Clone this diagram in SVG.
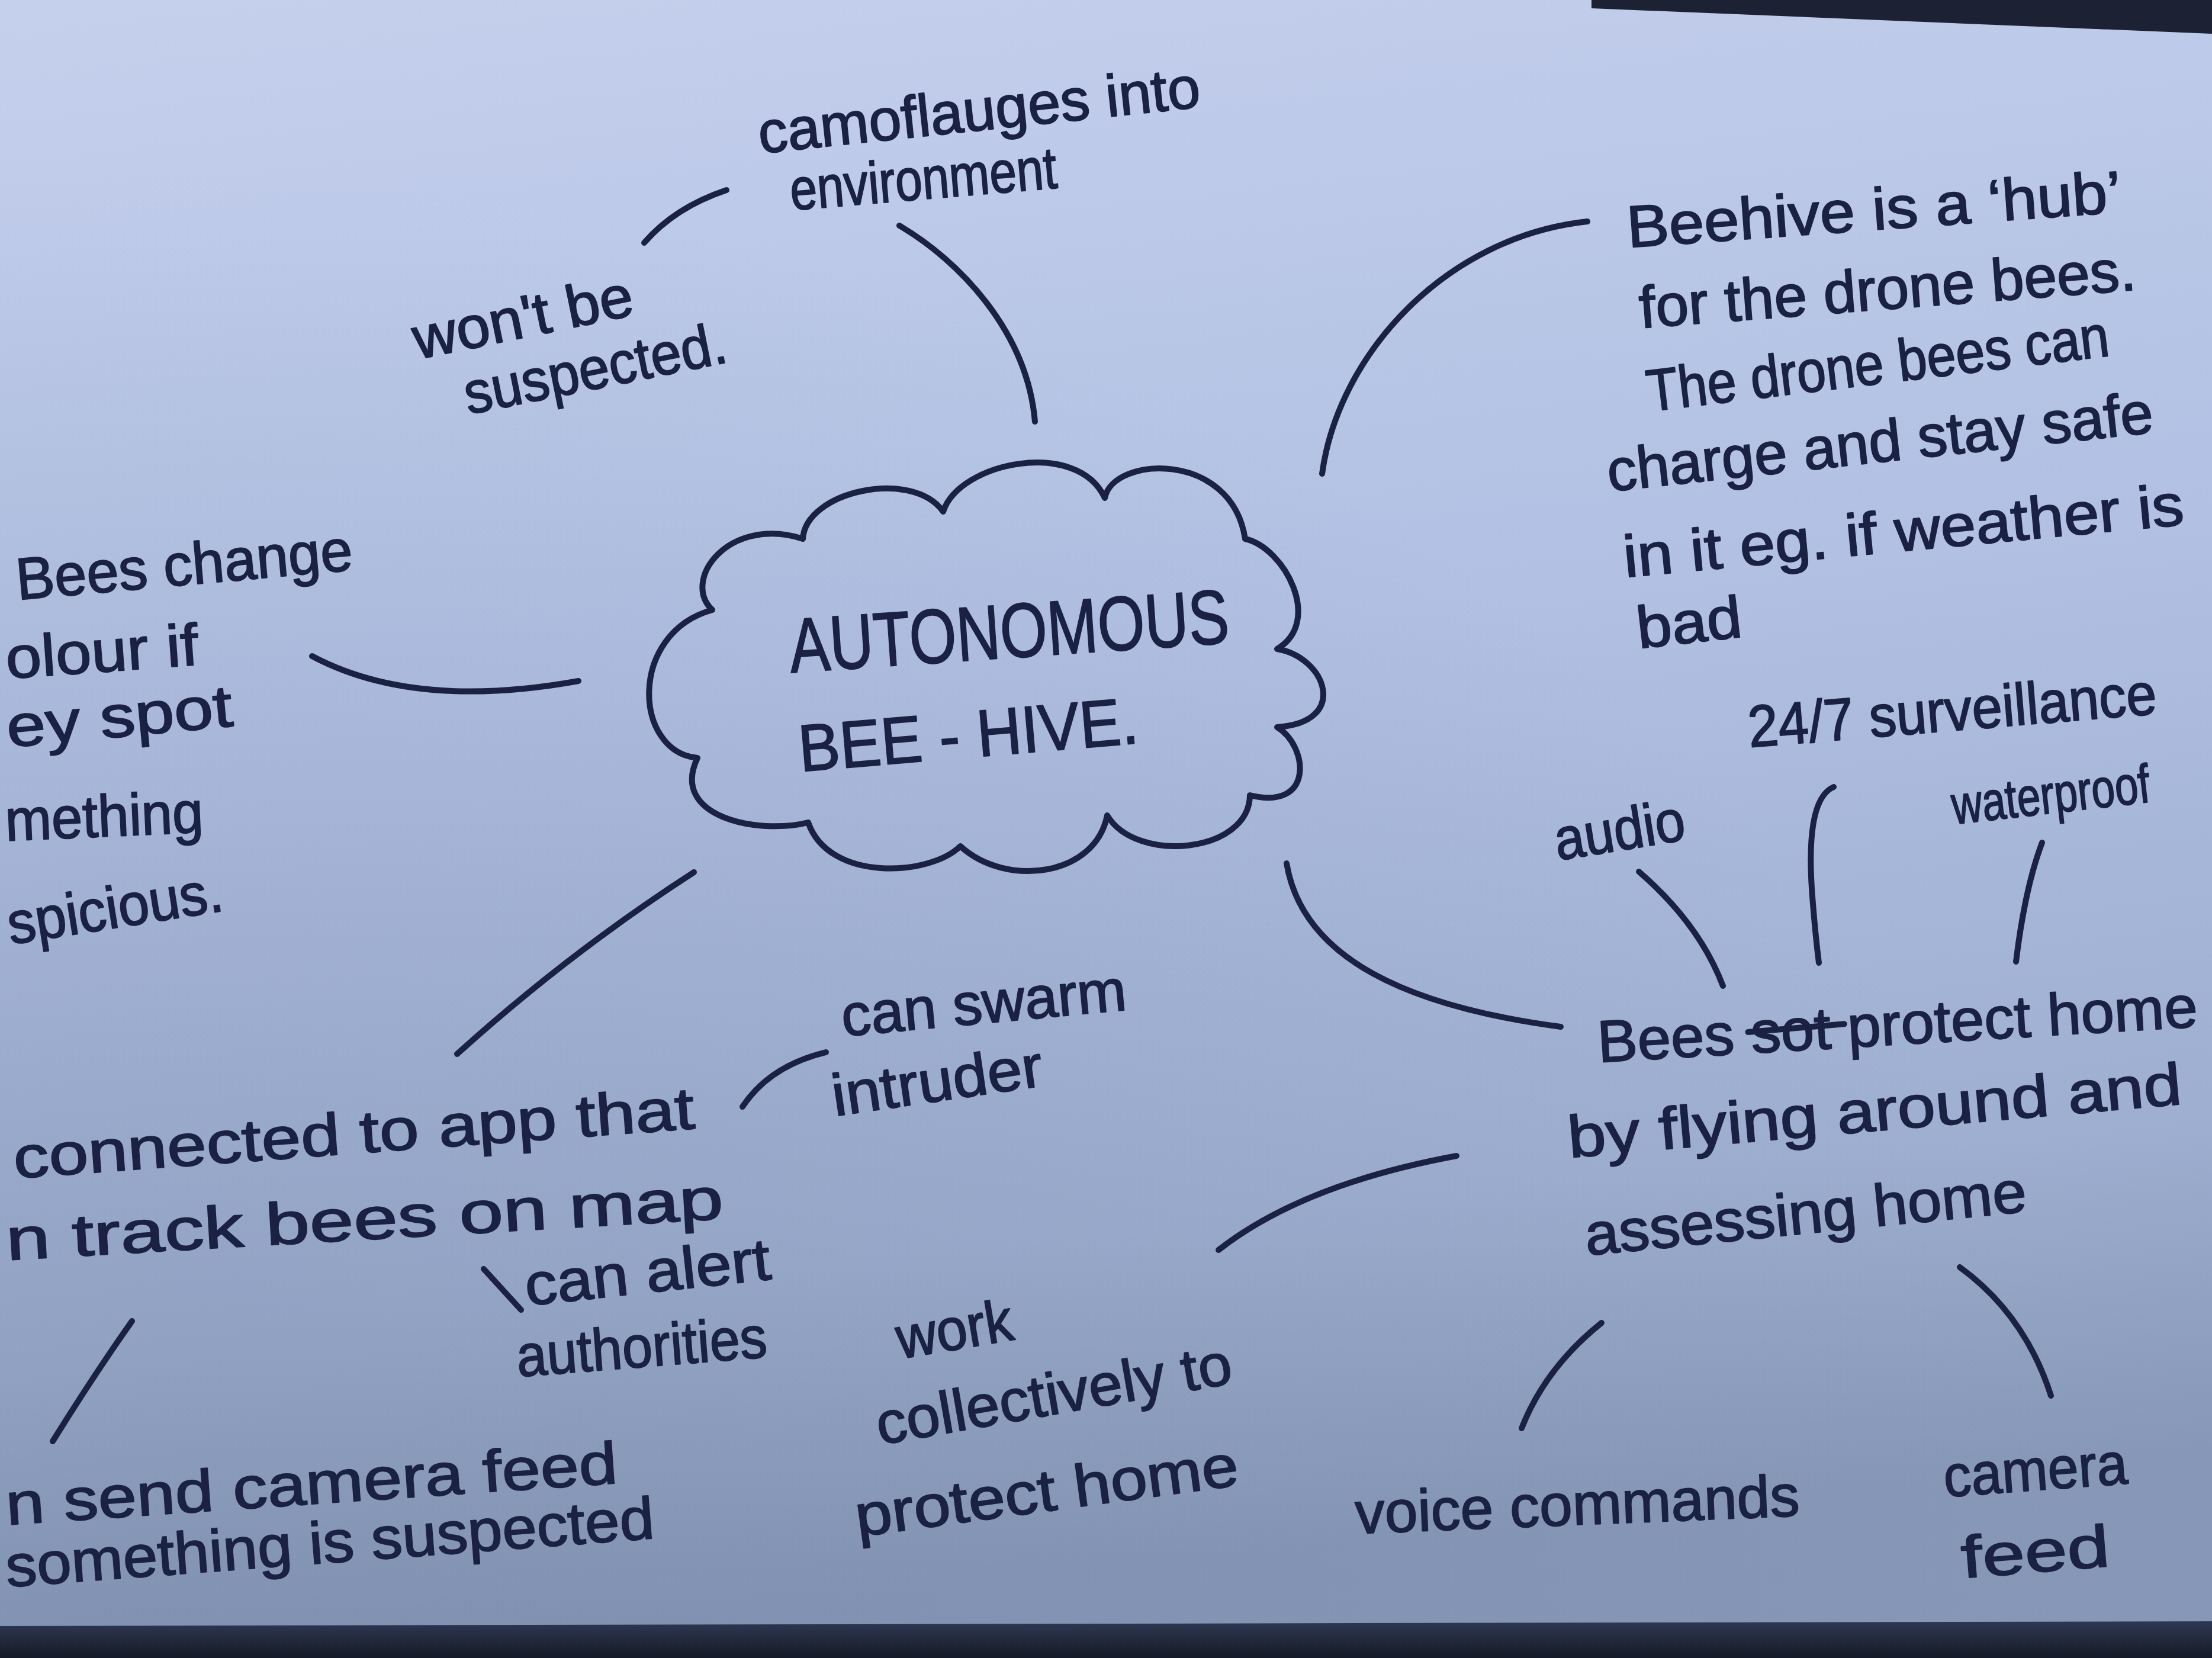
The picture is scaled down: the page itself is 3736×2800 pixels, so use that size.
<svg xmlns="http://www.w3.org/2000/svg" width="3736" height="2800" viewBox="0 0 3736 2800">
  <defs>
    <linearGradient id="paper" x1="0" y1="0" x2="0.15" y2="1">
      <stop offset="0" stop-color="#c5d0ec"/>
      <stop offset="0.45" stop-color="#b1c0e3"/>
      <stop offset="0.8" stop-color="#9eafd1"/>
      <stop offset="1" stop-color="#8797b7"/>
    </linearGradient>
    <radialGradient id="shade" cx="0.05" cy="1" r="0.9">
      <stop offset="0" stop-color="#6f7f9f" stop-opacity="0.35"/>
      <stop offset="1" stop-color="#6f7f9f" stop-opacity="0"/>
    </radialGradient>
    <linearGradient id="edge" x1="0" y1="0" x2="0" y2="1">
      <stop offset="0" stop-color="#2e3852"/>
      <stop offset="1" stop-color="#151a27"/>
    </linearGradient>
    <style>
      .ink { fill: none; stroke: #1a2142; stroke-width: 10; stroke-linecap: round; stroke-linejoin: round; }
      .t { font-family: "Liberation Sans", Arial, sans-serif; font-size: 100px; fill: #1a2142; stroke: #1a2142; stroke-width: 2; stroke-linejoin: round; }
      .big { font-size: 130px; }
      .mid { font-size: 112px; }
      .sm { font-size: 92px; }
    </style>
  </defs>

  <!-- paper -->
  <rect x="0" y="0" width="3736" height="2800" fill="url(#paper)"/>
  <rect x="0" y="0" width="3736" height="2800" fill="url(#shade)"/>
  <!-- table edges around the sheet -->
  <polygon points="2688,0 3736,0 3736,57 2688,14" fill="#1c2133"/>
  <polygon points="0,2746 3736,2738 3736,2800 0,2800" fill="url(#edge)"/>

  <!-- connectors -->
  <g id="connectors" class="ink">
    <path d="M1519,381 C1620,440 1735,560 1748,712"/>
    <path d="M1088,410 Q1140,350 1227,321"/>
    <path d="M2233,800 C2260,600 2440,400 2681,374"/>
    <path d="M527,1108 Q700,1200 977,1150"/>
    <path d="M1172,1473 Q960,1610 772,1780"/>
    <path d="M1254,1869 Q1300,1800 1395,1777"/>
    <path d="M2173,1458 C2200,1620 2380,1700 2636,1734"/>
    <path d="M2058,2111 Q2200,2000 2460,1952"/>
    <path d="M2768,1472 Q2870,1560 2910,1665"/>
    <path d="M3097,1329 C3060,1345 3055,1420 3060,1500 Q3065,1570 3072,1626"/>
    <path d="M3449,1423 Q3420,1500 3405,1624"/>
    <path d="M2705,2234 Q2610,2310 2570,2412"/>
    <path d="M3310,2140 Q3420,2220 3464,2357"/>
    <path d="M223,2231 Q160,2320 89,2434"/>
    <path d="M817,2143 L880,2212"/>
  </g>

  <!-- central cloud -->
  <g id="hub">
    <path class="ink" d="M1356,910 C1360,830 1540,790 1593,864 C1620,780 1820,740 1866,841 C1880,770 2080,760 2103,910 C2170,925 2235,1050 2157,1096 C2240,1110 2280,1220 2157,1228 C2210,1260 2220,1370 2111,1343 C2110,1440 1920,1460 1870,1377 C1850,1480 1700,1500 1622,1429 C1570,1480 1400,1490 1365,1389 C1280,1410 1130,1380 1178,1280 C1070,1270 1060,1070 1203,1030 C1150,980 1230,870 1356,910 Z"/>
    <text class="t big" transform="translate(1336,1136) rotate(-3.9)" textLength="744" lengthAdjust="spacingAndGlyphs">AUTONOMOUS</text>
    <text class="t mid" transform="translate(1352,1303) rotate(-4.8)" textLength="575" lengthAdjust="spacingAndGlyphs">BEE - HIVE.</text>
  </g>

  <g id="camouflage">
    <text class="t" transform="translate(1284,259) rotate(-6)" textLength="750" lengthAdjust="spacingAndGlyphs">camoflauges into</text>
    <text class="t" transform="translate(1337,355) rotate(-4.8)" textLength="452" lengthAdjust="spacingAndGlyphs">environment</text>
  </g>

  <g id="unsuspected">
    <text class="t" transform="translate(705,607) rotate(-11.6)" textLength="377" lengthAdjust="spacingAndGlyphs">won't be</text>
    <text class="t" transform="translate(791,700) rotate(-11.4)" textLength="450" lengthAdjust="spacingAndGlyphs">suspected.</text>
  </g>

  <g id="hive-hub">
    <text class="t" transform="translate(2750,418) rotate(-4.1)" textLength="837" lengthAdjust="spacingAndGlyphs">Beehive is a ‘hub’</text>
    <text class="t" transform="translate(2771,554) rotate(-4.4)" textLength="841" lengthAdjust="spacingAndGlyphs">for the drone bees.</text>
    <text class="t" transform="translate(2785,695) rotate(-6.9)" textLength="786" lengthAdjust="spacingAndGlyphs">The drone bees can</text>
    <text class="t" transform="translate(2718,830) rotate(-6.2)" textLength="927" lengthAdjust="spacingAndGlyphs">charge and stay safe</text>
    <text class="t" transform="translate(2745,975) rotate(-5.4)" textLength="950" lengthAdjust="spacingAndGlyphs">in it eg. if weather is</text>
    <text class="t" transform="translate(2768,1095) rotate(-6.4)" textLength="178" lengthAdjust="spacingAndGlyphs">bad</text>
  </g>

  <g id="colour-change">
    <text class="t" transform="translate(30,1013) rotate(-5.1)" textLength="570" lengthAdjust="spacingAndGlyphs">Bees change</text>
    <text class="t" transform="translate(12,1146) rotate(-4.1)" textLength="326" lengthAdjust="spacingAndGlyphs">olour if</text>
    <text class="t" transform="translate(14,1262) rotate(-5.4)" textLength="383" lengthAdjust="spacingAndGlyphs">ey spot</text>
    <text class="t" transform="translate(10,1420) rotate(-2.5)" textLength="335" lengthAdjust="spacingAndGlyphs">mething</text>
    <text class="t" transform="translate(18,1595) rotate(-9)" textLength="367" lengthAdjust="spacingAndGlyphs">spicious.</text>
  </g>

  <g id="surveillance">
    <text class="t" transform="translate(2955,1262) rotate(-4.7)" textLength="692" lengthAdjust="spacingAndGlyphs">24/7 surveillance</text>
  </g>
  <g id="audio">
    <text class="t" transform="translate(2631,1453) rotate(-9.1)" textLength="222" lengthAdjust="spacingAndGlyphs">audio</text>
  </g>
  <g id="waterproof">
    <text class="t sm" transform="translate(3300,1392) rotate(-6.5)" textLength="336" lengthAdjust="spacingAndGlyphs">waterproof</text>
  </g>

  <g id="protect-home">
    <g transform="translate(2700,1794) rotate(-3.4)">
      <text class="t" x="0" y="0" textLength="1015" lengthAdjust="spacingAndGlyphs">Bees sot protect home</text>
      <line class="ink" x1="255" y1="-36" x2="418" y2="-40"/>
    </g>
    <text class="t" transform="translate(2651,1955) rotate(-5)" textLength="1040" lengthAdjust="spacingAndGlyphs">by flying around and</text>
    <text class="t" transform="translate(2680,2120) rotate(-5.7)" textLength="749" lengthAdjust="spacingAndGlyphs">assessing home</text>
  </g>

  <g id="voice">
    <text class="t" transform="translate(2290,2590) rotate(-2.3)" textLength="751" lengthAdjust="spacingAndGlyphs">voice commands</text>
  </g>
  <g id="camera">
    <text class="t" transform="translate(3285,2528) rotate(-4.2)" textLength="311" lengthAdjust="spacingAndGlyphs">camera</text>
    <text class="t" transform="translate(3315,2665) rotate(-4.6)" textLength="251" lengthAdjust="spacingAndGlyphs">feed</text>
  </g>

  <g id="swarm">
    <text class="t" transform="translate(1424,1750) rotate(-5.3)" textLength="483" lengthAdjust="spacingAndGlyphs">can swarm</text>
    <text class="t" transform="translate(1410,1885) rotate(-8.3)" textLength="359" lengthAdjust="spacingAndGlyphs">intruder</text>
  </g>

  <g id="collective">
    <text class="t" transform="translate(1520,2295) rotate(-9.6)" textLength="198" lengthAdjust="spacingAndGlyphs">work</text>
    <text class="t" transform="translate(1486,2440) rotate(-9.9)" textLength="608" lengthAdjust="spacingAndGlyphs">collectively to</text>
    <text class="t" transform="translate(1449,2595) rotate(-7.7)" textLength="652" lengthAdjust="spacingAndGlyphs">protect home</text>
  </g>

  <g id="app">
    <text class="t" transform="translate(25,1990) rotate(-4.2)" textLength="1153" lengthAdjust="spacingAndGlyphs">connected to app that</text>
    <text class="t" transform="translate(12,2128) rotate(-3.3)" textLength="1213" lengthAdjust="spacingAndGlyphs">n track bees on map</text>
  </g>

  <g id="alert">
    <text class="t" transform="translate(890,2205) rotate(-6.2)" textLength="417" lengthAdjust="spacingAndGlyphs">can alert</text>
    <text class="t" transform="translate(875,2325) rotate(-4.5)" textLength="424" lengthAdjust="spacingAndGlyphs">authorities</text>
  </g>

  <g id="camera-feed-send">
    <text class="t" transform="translate(12,2575) rotate(-3.9)" textLength="1035" lengthAdjust="spacingAndGlyphs">n send camera feed</text>
    <text class="t" transform="translate(12,2680) rotate(-4.3)" textLength="1098" lengthAdjust="spacingAndGlyphs">something is suspected</text>
  </g>
</svg>
